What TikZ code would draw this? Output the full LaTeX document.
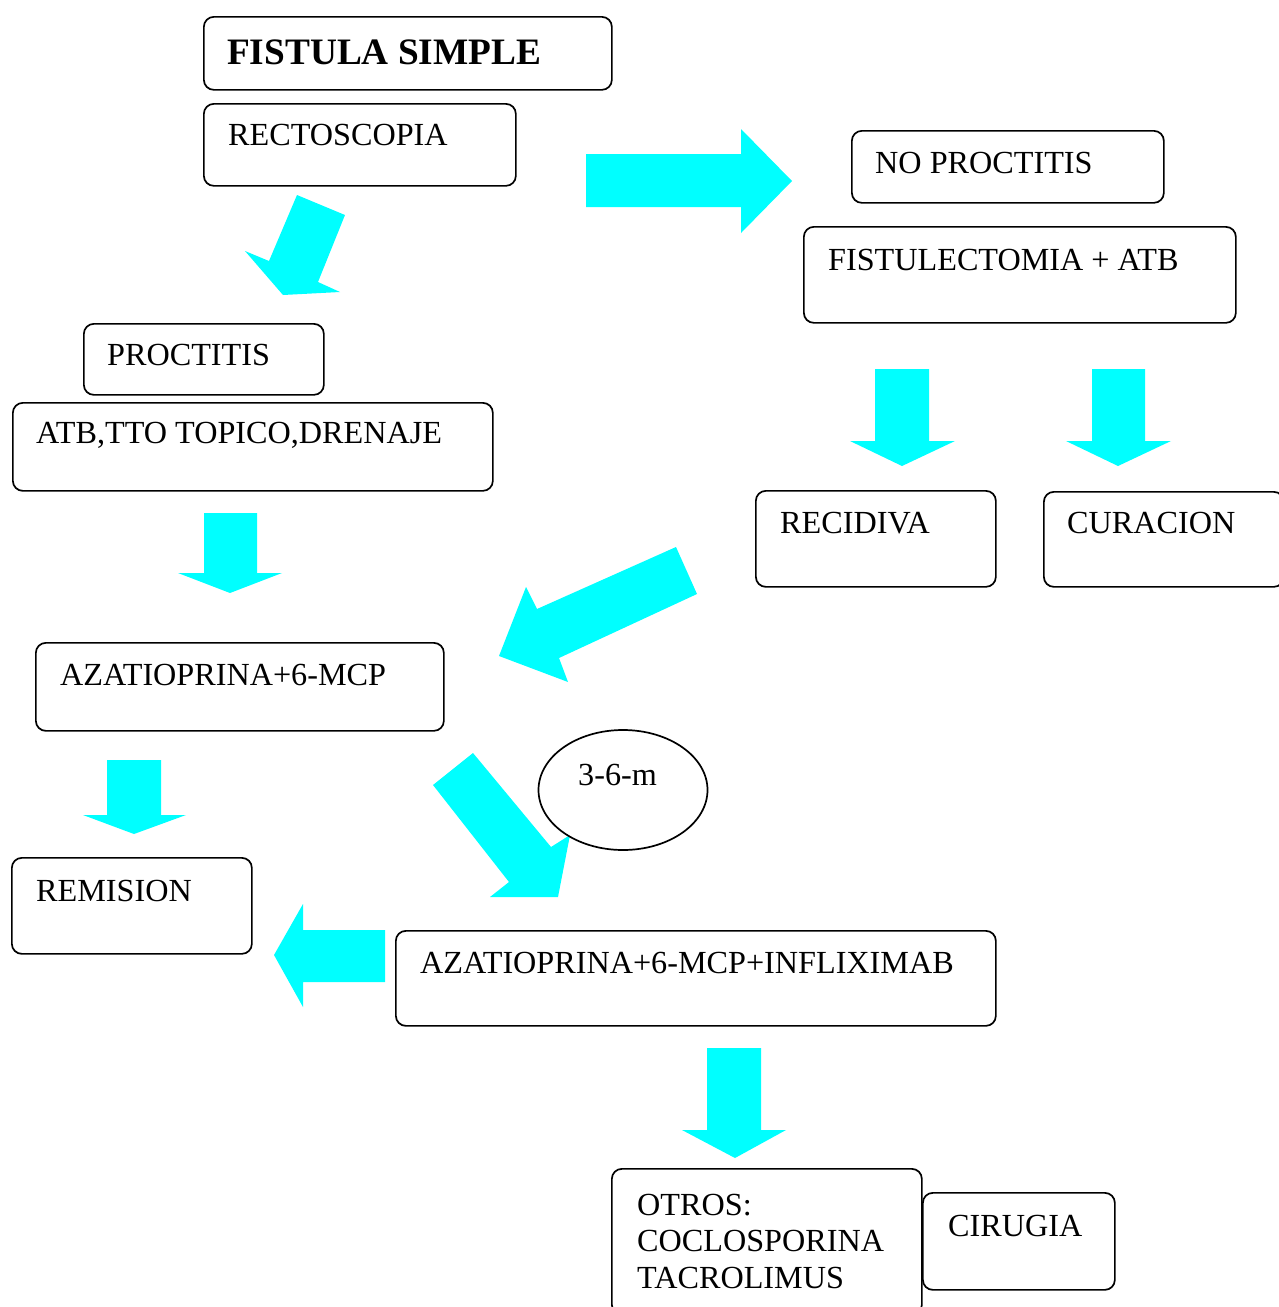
\documentclass[tikz,border=0pt]{standalone}
\usepackage{fontspec}
\setmainfont{Liberation Serif}
\usetikzlibrary{shapes.geometric}
\definecolor{flowcyan}{HTML}{00FFFF}
\begin{document}
\begin{tikzpicture}[x=1pt,y=-1pt,
  box/.style={draw, line width=1.7pt, rounded corners=10pt, fill=white,
              inner sep=0pt, anchor=north west},
  lbl/.style={inner sep=0pt, anchor=base west,
              font=\fontsize{32.2}{36.5}\selectfont},
  titlelbl/.style={lbl, font=\fontsize{37.3}{40}\selectfont\bfseries},
  blockarrow/.style={fill=flowcyan, draw=none}]

\useasboundingbox (0,0) rectangle (1279,1307);
\clip (0,0) rectangle (1279,1307);

% ---- block arrows ----
% RECTOSCOPIA -> NO PROCTITIS
\fill[blockarrow] (586,154) -- (741,154) -- (741,129) -- (792,181)
  -- (741,233) -- (741,207) -- (586,207) -- cycle;
% RECTOSCOPIA -> PROCTITIS
\fill[blockarrow] (297,195) -- (345,215) -- (318,282) -- (340,292)
  -- (283,295) -- (245,251) -- (269,261) -- cycle;
% FISTULECTOMIA -> RECIDIVA
\fill[blockarrow] (875,369) -- (929,369) -- (929,441) -- (955,441)
  -- (902,466) -- (850,441) -- (875,441) -- cycle;
% FISTULECTOMIA -> CURACION
\fill[blockarrow] (1092,369) -- (1145,369) -- (1145,441) -- (1171,441)
  -- (1118,466) -- (1066,441) -- (1092,441) -- cycle;
% ATB,TTO TOPICO,DRENAJE -> AZATIOPRINA
\fill[blockarrow] (204,513) -- (257,513) -- (257,573) -- (282,573)
  -- (230,593) -- (178,573) -- (204,573) -- cycle;
% RECIDIVA -> AZATIOPRINA
\fill[blockarrow] (676,547) -- (697,594) -- (559,658) -- (568,682)
  -- (499,656) -- (526,587) -- (537,609) -- cycle;
% AZATIOPRINA -> REMISION
\fill[blockarrow] (107,760) -- (161,760) -- (161,815) -- (186,815)
  -- (134,834) -- (83,815) -- (107,815) -- cycle;
% AZATIOPRINA -> AZATIOPRINA+6-MCP+INFLIXIMAB
\fill[blockarrow] (473,753) -- (551,847) -- (570,835) -- (558,897)
  -- (490,897) -- (509,882) -- (433,785) -- cycle;
% INFLIXIMAB -> REMISION
\fill[blockarrow] (385,930) -- (303,930) -- (303,904) -- (274,955)
  -- (303,1007) -- (303,982) -- (385,982) -- cycle;
% INFLIXIMAB -> OTROS
\fill[blockarrow] (707,1048) -- (761,1048) -- (761,1130) -- (786,1130)
  -- (735,1158) -- (682,1130) -- (707,1130) -- cycle;

% ---- boxes ----
\node[box, minimum width=408, minimum height=73] (title)  at (203,16)   {};
\node[box, minimum width=312, minimum height=82] (recto)  at (203,103)  {};
\node[box, minimum width=312, minimum height=72] (noproc) at (851,130)  {};
\node[box, minimum width=432, minimum height=96] (fistul) at (803,226)  {};
\node[box, minimum width=240, minimum height=71] (proc)   at (83,323)   {};
\node[box, minimum width=480, minimum height=88] (atb)    at (12,402)   {};
\node[box, minimum width=240, minimum height=96] (recid)  at (755,490)  {};
\node[box, minimum width=240, minimum height=95] (cura)   at (1043,491) {};
\node[box, minimum width=408, minimum height=88] (aza)    at (35,642)   {};
\node[box, minimum width=240, minimum height=96] (remis)  at (11,857)   {};
\node[box, minimum width=600, minimum height=95] (infl)   at (395,930)  {};
\node[box, minimum width=310, minimum height=146] (otros) at (611,1168) {};
\node[box, minimum width=192, minimum height=97] (ciru)   at (922,1192) {};
\node[ellipse, draw, line width=1.7pt, fill=white, inner sep=0pt,
      minimum width=169, minimum height=120] (dur) at (623,790) {};

% ---- labels ----
\node[titlelbl] (title-t)  at (227,64)  {FISTULA SIMPLE};
\node[lbl]      (recto-t)  at (228,145) {RECTOSCOPIA};
\node[lbl]      (noproc-t) at (875,173) {NO PROCTITIS};
\node[lbl]      (fistul-t) at (828,270) {FISTULECTOMIA + ATB};
\node[lbl]      (proc-t)   at (107,365) {PROCTITIS};
\node[lbl]      (atb-t)    at (36,443)  {ATB,TTO TOPICO,DRENAJE};
\node[lbl]      (recid-t)  at (780,533) {RECIDIVA};
\node[lbl]      (cura-t)   at (1067,533) {CURACION};
\node[lbl]      (aza-t)    at (60,685)  {AZATIOPRINA+6-MCP};
\node[lbl]      (dur-t)    at (578,785) {3-6-m};
\node[lbl]      (remis-t)  at (36,901)  {REMISION};
\node[lbl]      (infl-t)   at (420,973) {AZATIOPRINA+6-MCP+INFLIXIMAB};
\node[lbl]      (otros-t)  at (637,1215)
  {\begin{tabular}[t]{@{}l@{}}OTROS:\\COCLOSPORINA\\TACROLIMUS\end{tabular}};
\node[lbl]      (ciru-t)   at (948,1236) {CIRUGIA};
\end{tikzpicture}
\end{document}
